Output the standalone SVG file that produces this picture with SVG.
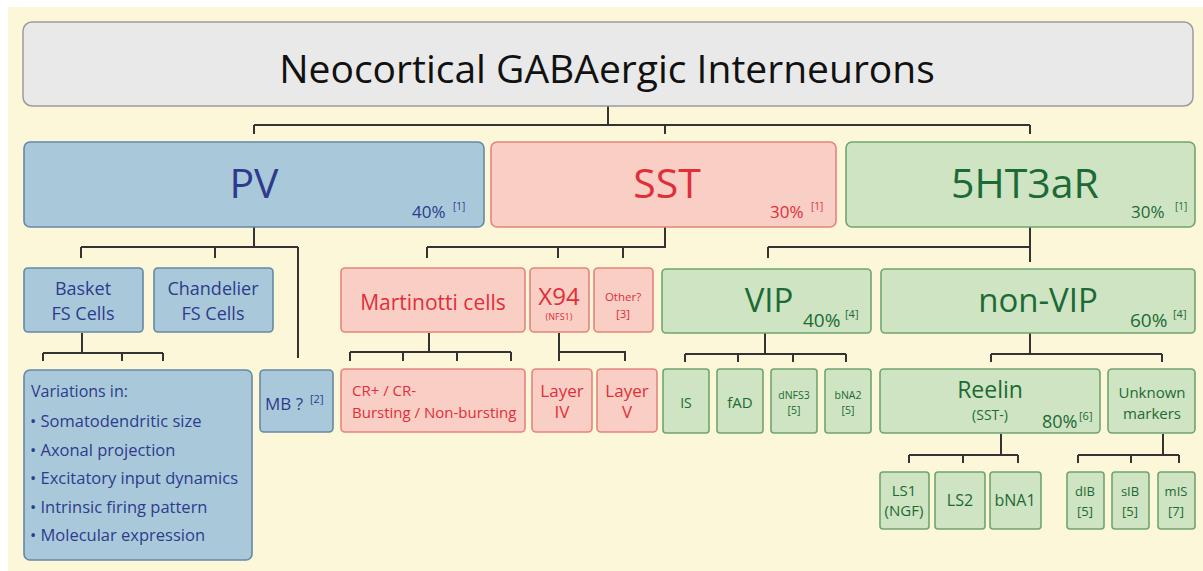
<svg xmlns="http://www.w3.org/2000/svg" width="1203" height="571" viewBox="0 0 1203 571">
  <style>
    text { font-family: "Open Sans", "Noto Sans", sans-serif; }
    .conn { stroke: #333333; stroke-width: 2; fill: none; }
    .top { fill: #e9e9e9; stroke: #9c9c9c; stroke-width: 1.5; }
    .b { fill: #a9c9db; stroke: #6488a6; stroke-width: 1.6; }
    .r { fill: #f9cec4; stroke: #e3847d; stroke-width: 1.6; }
    .g { fill: #cfe4c2; stroke: #6fa56f; stroke-width: 1.6; }
    .tb { fill: #2e3b8c; }
    .tr { fill: #df2f3a; }
    .tg { fill: #1c6a36; }
    .c { text-anchor: middle; }
  </style>

  <!-- page background -->
  <rect x="0" y="0" width="1203" height="571" fill="#ffffff"/>
  <rect x="8" y="7" width="1195" height="564" fill="#fdf7d9"/>

  <!-- connectors -->
  <g id="connectors" class="conn">
    <!-- root to classes -->
    <path d="M608,106 V125 M254,125 H1030 M254,125 V134 M665,125 V134 M1030,125 V134"/>
    <!-- PV -->
    <path d="M254,227 V247 M81,247 H298 M81,247 V258 M215,247 V258 M298,247 V358"/>
    <!-- Basket -->
    <path d="M82,333 V353 M43,353 H163 M43,353 V361 M122,353 V361 M163,353 V361"/>
    <!-- SST -->
    <path d="M665,227 V247 H427 M427,247 V258 M558,247 V258 M623,247 V258"/>
    <!-- Martinotti -->
    <path d="M429,333 V352 M350,352 H511 M350,352 V361 M403,352 V361 M457,352 V361 M511,352 V361"/>
    <!-- X94 -->
    <path d="M559,333 V361 M559,352 H625 V361"/>
    <!-- 5HT3aR -->
    <path d="M1030,227 V262 M768,247 H1030 M768,247 V258"/>
    <!-- VIP -->
    <path d="M765,333 V354 M685,354 H846 M685,354 V362 M738,354 V362 M793,354 V362 M846,354 V362"/>
    <!-- non-VIP -->
    <path d="M1030,333 V354 M991,354 H1162 M991,354 V362 M1162,354 V362"/>
    <!-- Reelin -->
    <path d="M1001,434 V455 M909,455 H1018 M909,455 V463 M963,455 V463 M1018,455 V463"/>
    <!-- Unknown markers -->
    <path d="M1163,434 V455 M1078,455 H1179 M1078,455 V463 M1131,455 V463 M1179,455 V463"/>
  </g>

  <!-- root -->
  <g id="root">
    <rect class="top" x="23" y="22" width="1170" height="84" rx="9"/>
    <text class="c" x="607" y="83" font-size="39" fill="#111111">Neocortical GABAergic Interneurons</text>
  </g>

  <!-- level 1 -->
  <g id="pv">
    <rect class="b" x="24" y="142" width="460" height="85" rx="6"/>
    <text class="c tb" x="254" y="198" font-size="41">PV</text>
    <text class="tb" x="412" y="218" font-size="17">40%</text>
    <text class="tb" x="453" y="210" font-size="10">[1]</text>
  </g>
  <g id="sst">
    <rect class="r" x="491" y="142" width="345" height="85" rx="6"/>
    <text class="c tr" x="667" y="198" font-size="41">SST</text>
    <text class="tr" x="770" y="218" font-size="17">30%</text>
    <text class="tr" x="811" y="210" font-size="10">[1]</text>
  </g>
  <g id="htr">
    <rect class="g" x="846" y="142" width="349" height="85" rx="6"/>
    <text class="c tg" x="1025" y="198" font-size="41">5HT3aR</text>
    <text class="tg" x="1131" y="218" font-size="17">30%</text>
    <text class="tg" x="1175" y="210" font-size="10">[1]</text>
  </g>

  <!-- level 2 -->
  <g id="basket">
    <rect class="b" x="24" y="268" width="119" height="64" rx="4"/>
    <text class="c tb" x="83" y="295" font-size="18">Basket</text>
    <text class="c tb" x="83" y="320" font-size="18">FS Cells</text>
  </g>
  <g id="chandelier">
    <rect class="b" x="154" y="268" width="119" height="64" rx="4"/>
    <text class="c tb" x="213" y="295" font-size="18">Chandelier</text>
    <text class="c tb" x="213" y="320" font-size="18">FS Cells</text>
  </g>
  <g id="martinotti">
    <rect class="r" x="341" y="268" width="184" height="64" rx="4"/>
    <text class="c tr" x="433" y="310" font-size="21">Martinotti cells</text>
  </g>
  <g id="x94">
    <rect class="r" x="530" y="268" width="59" height="64" rx="4"/>
    <text class="c tr" x="559" y="305" font-size="24">X94</text>
    <text class="c tr" x="559" y="320" font-size="9">(NFS1)</text>
  </g>
  <g id="other">
    <rect class="r" x="594" y="268" width="59" height="64" rx="4"/>
    <text class="c tr" x="623" y="301" font-size="11.5">Other?</text>
    <text class="c tr" x="623" y="318" font-size="11.5">[3]</text>
  </g>
  <g id="vip">
    <rect class="g" x="662" y="269" width="209" height="64" rx="4"/>
    <text class="c tg" x="769" y="312" font-size="33">VIP</text>
    <text class="tg" x="803" y="327" font-size="19">40%</text>
    <text class="tg" x="845" y="318" font-size="11">[4]</text>
  </g>
  <g id="nonvip">
    <rect class="g" x="881" y="269" width="314" height="64" rx="4"/>
    <text class="c tg" x="1038" y="312" font-size="33">non-VIP</text>
    <text class="tg" x="1130" y="327" font-size="19">60%</text>
    <text class="tg" x="1173" y="318" font-size="11">[4]</text>
  </g>

  <!-- level 3 -->
  <g id="variations">
    <rect class="b" x="24" y="370" width="228" height="190" rx="6"/>
    <text class="tb" x="31" y="397" font-size="16">Variations in:</text>
    <text class="tb" x="30" y="427" font-size="16.5">• Somatodendritic size</text>
    <text class="tb" x="30" y="455.5" font-size="16.5">• Axonal projection</text>
    <text class="tb" x="30" y="484" font-size="16.5">• Excitatory input dynamics</text>
    <text class="tb" x="30" y="512.5" font-size="16.5">• Intrinsic firing pattern</text>
    <text class="tb" x="30" y="541" font-size="16.5">• Molecular expression</text>
  </g>
  <g id="mb">
    <rect class="b" x="260" y="370" width="73" height="62" rx="4"/>
    <text class="tb" x="265" y="410" font-size="17">MB ?</text>
    <text class="tb" x="310" y="403" font-size="11">[2]</text>
  </g>
  <g id="cr">
    <rect class="r" x="341" y="369" width="184" height="63" rx="4"/>
    <text class="tr" x="352" y="396" font-size="15">CR+ / CR-</text>
    <text class="tr" x="352" y="418" font-size="15">Bursting / Non-bursting</text>
  </g>
  <g id="layer4">
    <rect class="r" x="532" y="369" width="60" height="63" rx="4"/>
    <text class="c tr" x="562" y="397" font-size="17">Layer</text>
    <text class="c tr" x="562" y="418" font-size="17">IV</text>
  </g>
  <g id="layer5">
    <rect class="r" x="597" y="369" width="60" height="63" rx="4"/>
    <text class="c tr" x="627" y="397" font-size="17">Layer</text>
    <text class="c tr" x="627" y="418" font-size="17">V</text>
  </g>
  <g id="is">
    <rect class="g" x="663" y="369" width="46" height="64" rx="3"/>
    <text class="c tg" x="686" y="408" font-size="14">IS</text>
  </g>
  <g id="fad">
    <rect class="g" x="717" y="369" width="46" height="64" rx="3"/>
    <text class="c tg" x="740" y="408" font-size="15">fAD</text>
  </g>
  <g id="dnfs3">
    <rect class="g" x="771" y="369" width="46" height="64" rx="3"/>
    <text class="c tg" x="794" y="399" font-size="10.5">dNFS3</text>
    <text class="c tg" x="794" y="414" font-size="10.5">[5]</text>
  </g>
  <g id="bna2">
    <rect class="g" x="825" y="369" width="46" height="64" rx="3"/>
    <text class="c tg" x="848" y="399" font-size="10.5">bNA2</text>
    <text class="c tg" x="848" y="414" font-size="10.5">[5]</text>
  </g>
  <g id="reelin">
    <rect class="g" x="880" y="369" width="220" height="64" rx="4"/>
    <text class="c tg" x="990" y="398" font-size="23">Reelin</text>
    <text class="c tg" x="990" y="420" font-size="14">(SST-)</text>
    <text class="tg" x="1042" y="428" font-size="18">80%</text>
    <text class="tg" x="1079" y="420" font-size="11">[6]</text>
  </g>
  <g id="unknown">
    <rect class="g" x="1108" y="369" width="87" height="64" rx="4"/>
    <text class="c tg" x="1152" y="398" font-size="15">Unknown</text>
    <text class="c tg" x="1152" y="419" font-size="15">markers</text>
  </g>

  <!-- level 4 -->
  <g id="ls1">
    <rect class="g" x="880" y="472" width="49" height="57" rx="3"/>
    <text class="c tg" x="904" y="496" font-size="15">LS1</text>
    <text class="c tg" x="904" y="516" font-size="15">(NGF)</text>
  </g>
  <g id="ls2">
    <rect class="g" x="935" y="472" width="50" height="57" rx="3"/>
    <text class="c tg" x="960" y="506" font-size="16">LS2</text>
  </g>
  <g id="bna1">
    <rect class="g" x="990" y="472" width="51" height="57" rx="3"/>
    <text class="c tg" x="1015" y="506" font-size="16">bNA1</text>
  </g>
  <g id="dib">
    <rect class="g" x="1067" y="472" width="37" height="57" rx="3"/>
    <text class="c tg" x="1085" y="496" font-size="13">dIB</text>
    <text class="c tg" x="1085" y="516" font-size="13">[5]</text>
  </g>
  <g id="sib">
    <rect class="g" x="1112" y="472" width="37" height="57" rx="3"/>
    <text class="c tg" x="1130" y="496" font-size="13">sIB</text>
    <text class="c tg" x="1130" y="516" font-size="13">[5]</text>
  </g>
  <g id="mis">
    <rect class="g" x="1158" y="472" width="37" height="57" rx="3"/>
    <text class="c tg" x="1176" y="496" font-size="13">mIS</text>
    <text class="c tg" x="1176" y="516" font-size="13">[7]</text>
  </g>
</svg>
